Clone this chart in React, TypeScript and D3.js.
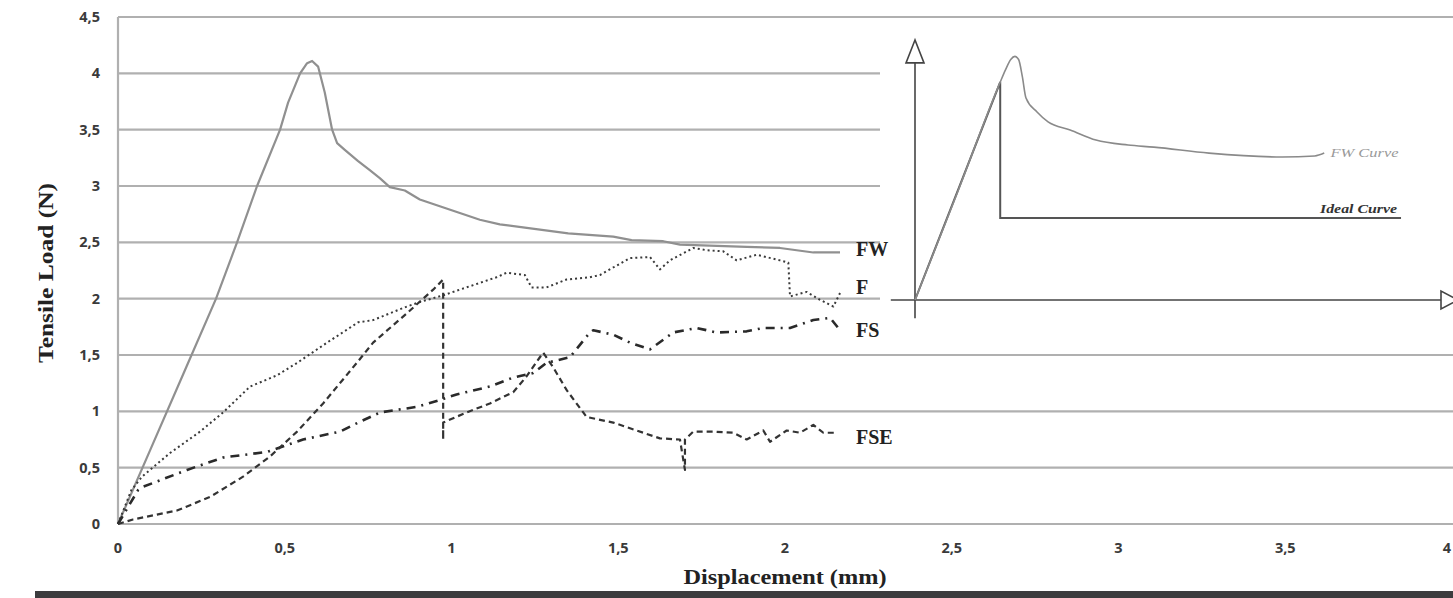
import { useEffect } from "react";
import * as d3 from "d3";

// displacement (mm) / tensile load (N)
const fwCurve: [number, number][] = [
  [0, 0], [0.1, 0.68], [0.2, 1.36], [0.294, 2.0], [0.357, 2.5], [0.417, 3.0], [0.486, 3.5],
  [0.51, 3.74], [0.546, 4.0], [0.567, 4.09], [0.582, 4.11], [0.6, 4.06], [0.62, 3.83],
  [0.642, 3.5], [0.657, 3.38], [0.68, 3.32], [0.72, 3.22], [0.755, 3.14], [0.785, 3.07],
  [0.815, 2.99], [0.86, 2.96], [0.905, 2.88], [0.965, 2.82], [1.025, 2.76], [1.085, 2.7],
  [1.145, 2.66], [1.22, 2.63], [1.35, 2.58], [1.485, 2.55], [1.54, 2.52], [1.635, 2.51],
  [1.685, 2.48], [1.885, 2.46], [1.985, 2.45], [2.085, 2.41], [2.165, 2.41],
];

const fCurve: [number, number][] = [
  [0, 0], [0.04, 0.3], [0.072, 0.42], [0.156, 0.63], [0.246, 0.82], [0.315, 0.99],
  [0.396, 1.22], [0.477, 1.32], [0.537, 1.43], [0.627, 1.61], [0.72, 1.79], [0.765, 1.81],
  [0.866, 1.93], [0.905, 1.97], [0.975, 2.03], [1.065, 2.12], [1.135, 2.19], [1.165, 2.23],
  [1.22, 2.21], [1.24, 2.1], [1.285, 2.1], [1.345, 2.17], [1.415, 2.19], [1.445, 2.21],
  [1.535, 2.36], [1.595, 2.37], [1.625, 2.26], [1.655, 2.34], [1.725, 2.45], [1.765, 2.43],
  [1.815, 2.42], [1.855, 2.34], [1.915, 2.39], [1.985, 2.34], [2.01, 2.32], [2.015, 2.02],
  [2.065, 2.06], [2.105, 1.99], [2.145, 1.93], [2.165, 2.05],
];

const fsCurve: [number, number][] = [
  [0, 0], [0.06, 0.3], [0.075, 0.33], [0.207, 0.48], [0.315, 0.59], [0.447, 0.64],
  [0.555, 0.75], [0.666, 0.82], [0.72, 0.9], [0.786, 0.99], [0.897, 1.04], [0.965, 1.1],
  [1.015, 1.15], [1.115, 1.22], [1.185, 1.3], [1.245, 1.34], [1.285, 1.43], [1.355, 1.48],
  [1.415, 1.7], [1.425, 1.72], [1.485, 1.68], [1.535, 1.61], [1.595, 1.55], [1.665, 1.7],
  [1.735, 1.74], [1.795, 1.7], [1.885, 1.71], [1.935, 1.74], [2.015, 1.74], [2.085, 1.81],
  [2.135, 1.83], [2.165, 1.72],
];

const fseCurve: [number, number][] = [
  [0, 0], [0.045, 0.04], [0.177, 0.12], [0.276, 0.24], [0.375, 0.42], [0.456, 0.6],
  [0.537, 0.82], [0.615, 1.07], [0.716, 1.43], [0.765, 1.61], [0.866, 1.87], [0.945, 2.08],
  [0.975, 2.17], [0.975, 0.75], [0.975, 0.9], [1.045, 0.99], [1.115, 1.07], [1.185, 1.17],
  [1.225, 1.31], [1.265, 1.48], [1.275, 1.52], [1.305, 1.39], [1.345, 1.19], [1.395, 0.99],
  [1.405, 0.95], [1.485, 0.9], [1.555, 0.83], [1.625, 0.76], [1.685, 0.75], [1.7, 0.48],
  [1.7, 0.75], [1.725, 0.82], [1.785, 0.82], [1.845, 0.81], [1.885, 0.75], [1.935, 0.83],
  [1.955, 0.73], [2.005, 0.83], [2.045, 0.81], [2.085, 0.88], [2.115, 0.81], [2.155, 0.81],
];

const seriesNames = ["FW", "F", "FS", "FSE"];
const xTicks = [0, 0.5, 1, 1.5, 2, 2.5, 3, 3.5, 4];
const yTicks = [0, 0.5, 1, 1.5, 2, 2.5, 3, 3.5, 4, 4.5];

// inset sketch, normalised units
const insetFwCurve: [number, number][] = [
  [0, 0], [0.08, 0.41], [0.162, 0.838], [0.172, 0.885], [0.182, 0.925], [0.19, 0.937],
  [0.197, 0.925], [0.204, 0.86], [0.211, 0.777], [0.232, 0.723], [0.253, 0.685],
  [0.295, 0.654], [0.344, 0.615], [0.405, 0.596], [0.454, 0.588], [0.559, 0.565],
  [0.698, 0.55], [0.76, 0.554], [0.778, 0.565],
];
const insetIdealCurve: [number, number][] = [
  [0, 0], [0.162, 0.838], [0.162, 0.315], [0.924, 0.315],
];

const W = 1453;
const H = 598;

const App = () => {
  useEffect(() => {
    document.body.style.margin = "0";
  }, []);

  const x = d3.scaleLinear().domain([0, 4]).range([118, 1452]);
  const y = d3.scaleLinear().domain([0, 4.5]).range([524, 17]);

  const ix = d3.scaleLinear().domain([0, 1]).range([915, 1441]);
  const iy = d3.scaleLinear().domain([0, 1]).range([300, 40]);

  const line = d3.line<[number, number]>().x(d => x(d[0])).y(d => y(d[1]));
  const iline = d3.line<[number, number]>().x(d => ix(d[0])).y(d => iy(d[1])).curve(d3.curveMonotoneX);
  const idealLine = d3.line<[number, number]>().x(d => ix(d[0])).y(d => iy(d[1]));

  const fmt = (v: number) => String(v).replace(".", ",");

  const series = [
    { data: fwCurve, stroke: "#909090", width: 2.2, dash: "none", dy: -3 },
    { data: fCurve, stroke: "#3a3a3a", width: 2, dash: "2 3", dy: -6 },
    { data: fsCurve, stroke: "#2a2a2a", width: 2.6, dash: "9 6 2 6", dy: 0 },
    { data: fseCurve, stroke: "#333", width: 2.2, dash: "6 4", dy: 4 },
  ];

  const labelX = x(2.165) + 16;

  return (
    <svg width={W} height={H} style={{ position: "absolute", left: 0, top: 0, background: "#fff" }}>
      {/* grid */}
      {yTicks.map(t => (
        <line key={"g" + t} x1={118} x2={W} y1={y(t)} y2={y(t)} stroke="#b0b0b0" strokeWidth={2.2} />
      ))}
      <line x1={118} x2={118} y1={y(4.5)} y2={y(0)} stroke="#b0b0b0" strokeWidth={2.2} />

      {/* tick labels */}
      {yTicks.map(t => (
        <text key={"yt" + t} x={100} y={y(t)} dy="0.35em" textAnchor="end"
          fontFamily="Open Sans, sans-serif" fontWeight="bold" fontSize={14.5} fill="#3a3a3a">
          {fmt(t)}
        </text>
      ))}
      {xTicks.map(t => (
        <text key={"xt" + t} x={Math.min(x(t), W - 6)} y={548} dy="0.35em" textAnchor="middle"
          fontFamily="Open Sans, sans-serif" fontWeight="bold" fontSize={14.5} fill="#3a3a3a">
          {fmt(t)}
        </text>
      ))}

      {/* axis titles */}
      <text x={785} y={584} textAnchor="middle" fontFamily="Liberation Serif, serif" fontWeight="bold"
        fontSize={21} fill="#222" textLength={203} lengthAdjust="spacingAndGlyphs">
        Displacement (mm)
      </text>
      <text transform="translate(53,273) rotate(-90)" textAnchor="middle" fontFamily="Liberation Serif, serif"
        fontWeight="bold" fontSize={21} fill="#222" textLength={180} lengthAdjust="spacingAndGlyphs">
        Tensile Load (N)
      </text>

      {/* inset panel */}
      <rect x={880} y={22} width={W - 880} height={308} fill="#fff" />
      <line x1={ix(0)} x2={ix(0)} y1={iy(-0.07)} y2={iy(0.912)} stroke="#444" strokeWidth={1.6} />
      <path d={`M${ix(0)},${iy(1)}L${ix(0) - 9},${iy(0.912)}L${ix(0) + 9},${iy(0.912)}Z`}
        fill="#fff" stroke="#444" strokeWidth={1.6} />
      <line x1={ix(-0.046)} x2={ix(1)} y1={iy(0)} y2={iy(0)} stroke="#444" strokeWidth={1.6} />
      <path d={`M${ix(1) + 17},${iy(0)}L${ix(1)},${iy(0) - 9}L${ix(1)},${iy(0) + 9}Z`}
        fill="#fff" stroke="#444" strokeWidth={1.6} />
      <path d={idealLine(insetIdealCurve) ?? ""} fill="none" stroke="#555" strokeWidth={2} />
      <path d={iline(insetFwCurve) ?? ""} fill="none" stroke="#8a8a8a" strokeWidth={1.6} />
      <text x={ix(0.79)} y={iy(0.55)} fontFamily="Liberation Serif, serif" fontStyle="italic"
        fontSize={12} fill="#999" textLength={68} lengthAdjust="spacingAndGlyphs">FW Curve</text>
      <text x={ix(0.77)} y={iy(0.335)} fontFamily="Liberation Serif, serif" fontStyle="italic"
        fontWeight="bold" fontSize={13} fill="#333" textLength={77} lengthAdjust="spacingAndGlyphs">Ideal Curve</text>

      {/* curves */}
      {series.map((s, i) => (
        <path key={seriesNames[i]} d={line(s.data) ?? ""} fill="none" stroke={s.stroke}
          strokeWidth={s.width} strokeDasharray={s.dash} strokeLinejoin="round" />
      ))}
      {series.map((s, i) => (
        <text key={"l" + i} x={labelX} y={y(s.data[s.data.length - 1][1]) + s.dy} dy="0.35em"
          fontFamily="Liberation Serif, serif" fontWeight="bold" fontSize={20} fill="#222">
          {seriesNames[i]}
        </text>
      ))}

      {/* dark strip at the bottom */}
      <rect x={35} y={591} width={W - 35} height={7} fill="#3c3c3e" />
    </svg>
  );
};

export default App;
